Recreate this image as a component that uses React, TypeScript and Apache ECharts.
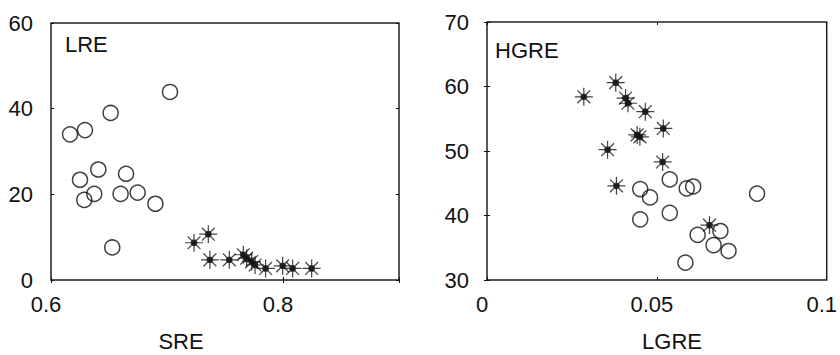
import React, { useEffect, useRef } from "react";
import * as echarts from "echarts";

// Left panel: SRE (x) vs LRE (y)
const lreCirclesX = [0.6164, 0.6293, 0.6514, 0.7026, 0.625, 0.6408, 0.6647, 0.6287, 0.6373, 0.660, 0.6747, 0.690, 0.6528];
const lreCirclesY = [34.0, 35.0, 39.0, 43.9, 23.4, 25.8, 24.8, 18.7, 20.1, 20.1, 20.4, 17.8, 7.6];
const lreStarsX = [0.7233, 0.7356, 0.737, 0.7537, 0.7658, 0.7687, 0.773, 0.7759, 0.785, 0.7997, 0.8083, 0.8247];
const lreStarsY = [8.7, 10.7, 4.7, 4.7, 5.9, 5.1, 4.3, 3.5, 2.7, 3.3, 2.7, 2.7];

// Right panel: LGRE (x) vs HGRE (y)
const hgreCirclesX = [0.0538, 0.0451, 0.0480, 0.0588, 0.0607, 0.0795, 0.0451, 0.0538, 0.0620, 0.0687, 0.0667, 0.0711, 0.0584];
const hgreCirclesY = [45.6, 44.1, 42.8, 44.2, 44.5, 43.4, 39.4, 40.4, 37.0, 37.6, 35.4, 34.5, 32.7];
const hgreStarsX = [0.0285, 0.0379, 0.0408, 0.0415, 0.0466, 0.0519, 0.0442, 0.0450, 0.0355, 0.0517, 0.0381, 0.0655];
const hgreStarsY = [58.4, 60.6, 58.2, 57.4, 56.1, 53.5, 52.5, 52.2, 50.2, 48.3, 44.6, 38.5];

const leftYTicks = { min: 0, max: 60, interval: 20 };
const leftXTicks = { min: 0.6, max: 0.9, interval: 0.2 };
const rightYTicks = { min: 30, max: 70, interval: 10 };
const rightXTicks = { min: 0, max: 0.1, interval: 0.05 };

const STAR =
  "path://M0,8L16,8M8,0L8,16M2.3,2.3L13.7,13.7M13.7,2.3L2.3,13.7M10.5,8A2.5,2.5,0,1,1,5.5,8A2.5,2.5,0,1,1,10.5,8Z";

const FONT = "'Liberation Sans', Arial, sans-serif";
const FS = 22;

function zip(xs: number[], ys: number[]) {
  return xs.map((x, i) => [x, ys[i]]);
}

export default function App() {
  const ref = useRef<HTMLDivElement>(null);
  useEffect(() => {
    if (!ref.current) return;
    const chart = echarts.init(ref.current, undefined, { renderer: "svg" });
    const labelStyle = { color: "#111", fontSize: FS, fontFamily: FONT };
    const fmt = (hide: number | null) => (v: number) =>
      hide !== null && Math.abs(v - hide) < 1e-9 ? "" : String(+v.toFixed(3));
    const tick = { show: true, inside: true, length: 3, lineStyle: { color: "#111" } };
    const mkX = (gridIndex: number, t: any, hideMax: number | null) => [
      {
        type: "value", gridIndex, min: t.min, max: t.max, interval: t.interval,
        axisLine: { show: false }, splitLine: { show: false }, axisTick: tick,
        axisLabel: { ...labelStyle, margin: 13, padding: [0, 10, 0, 0], formatter: fmt(hideMax) },
      },
      {
        type: "value", gridIndex, position: "top", min: t.min, max: t.max, interval: t.interval,
        axisLine: { show: false }, splitLine: { show: false }, axisTick: tick,
        axisLabel: { show: false },
      },
    ];
    const mkY = (gridIndex: number, t: any) => [
      {
        type: "value", gridIndex, min: t.min, max: t.max, interval: t.interval,
        axisLine: { show: false }, splitLine: { show: false }, axisTick: tick,
        axisLabel: { ...labelStyle, margin: 18 },
      },
      {
        type: "value", gridIndex, position: "right", min: t.min, max: t.max, interval: t.interval,
        axisLine: { show: false }, splitLine: { show: false }, axisTick: tick,
        axisLabel: { show: false },
      },
    ];
    const circleStyle = { color: "rgba(0,0,0,0)", borderColor: "#111", borderWidth: 1.5 };
    const starStyle = { color: "#111", borderColor: "#111", borderWidth: 1.2 };
    chart.setOption({
      animation: false,
      backgroundColor: "#fff",
      grid: [
        { left: 51, top: 23, width: 348, height: 257, show: true, borderColor: "#222", borderWidth: 1.5, backgroundColor: "transparent" },
        { left: 487, top: 22, width: 347, height: 258, show: true, borderColor: "#222", borderWidth: 1.5, backgroundColor: "transparent" },
      ],
      xAxis: [...mkX(0, leftXTicks, 0.9), ...mkX(1, rightXTicks, null)],
      yAxis: [...mkY(0, leftYTicks), ...mkY(1, rightYTicks)],
      series: [
        { type: "scatter", xAxisIndex: 0, yAxisIndex: 0, symbol: "circle", symbolSize: 15, itemStyle: circleStyle, data: zip(lreCirclesX, lreCirclesY) },
        { type: "scatter", xAxisIndex: 0, yAxisIndex: 0, symbol: STAR, symbolSize: 18, itemStyle: starStyle, data: zip(lreStarsX, lreStarsY) },
        { type: "scatter", xAxisIndex: 2, yAxisIndex: 2, symbol: "circle", symbolSize: 15, itemStyle: circleStyle, data: zip(hgreCirclesX, hgreCirclesY) },
        { type: "scatter", xAxisIndex: 2, yAxisIndex: 2, symbol: STAR, symbolSize: 18, itemStyle: starStyle, data: zip(hgreStarsX, hgreStarsY) },
      ],
      graphic: [
        { type: "text", x: 65, y: 44, style: { text: "LRE", fill: "#111", font: `${FS}px ${FONT}`, verticalAlign: "middle" } },
        { type: "text", x: 495, y: 50, style: { text: "HGRE", fill: "#111", font: `${FS}px ${FONT}`, verticalAlign: "middle" } },
        { type: "text", x: 181, y: 341, style: { text: "SRE", fill: "#111", font: `${FS}px ${FONT}`, align: "center", verticalAlign: "middle" } },
        { type: "text", x: 672, y: 341, style: { text: "LGRE", fill: "#111", font: `${FS}px ${FONT}`, align: "center", verticalAlign: "middle" } },
      ],
    });
    return () => chart.dispose();
  }, []);
  return (
    <div
      ref={ref}
      style={{ position: "fixed", left: 0, top: 0, width: 840, height: 355 }}
    />
  );
}
